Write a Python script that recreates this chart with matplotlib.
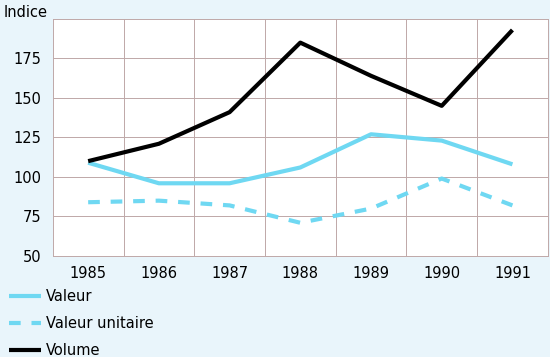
import matplotlib.pyplot as plt

# données
years = [1985, 1986, 1987, 1988, 1989, 1990, 1991]
valeur = [109, 96, 96, 106, 127, 123, 108]
valeur_unitaire = [84, 85, 82, 71, 80, 99, 82]
volume = [110, 121, 141, 185, 164, 145, 193]
yticks = [50, 75, 100, 125, 150, 175]

bg = '#e9f5fb'
cyan = '#6fd8f2'
grid_col = '#bfa8a8'

plt.rcParams['font.family'] = ['DejaVu Sans']

fig = plt.figure(figsize=(5.5, 3.57), dpi=100, facecolor=bg)
ax = fig.add_axes([0.096, 0.283, 0.9, 0.664])
ax.set_facecolor('white')

ax.plot(years, valeur, color=cyan, lw=3.0, label='Valeur', solid_capstyle='butt')
ax.plot(years, valeur_unitaire, color=cyan, lw=3.0, ls=(0, (2.8, 2.6)),
        label='Valeur unitaire')
ax.plot(years, volume, color='black', lw=3.0, label='Volume', solid_capstyle='butt')

ax.set_xlim(1984.5, 1991.5)
ax.set_ylim(50, 200)
ax.set_xticks(years)
ax.set_yticks(yticks)
# grille décalée d'une demi-année
for x in [y + 0.5 for y in years[:-1]]:
    ax.axvline(x, color=grid_col, lw=0.7, zorder=0)
for y in yticks[1:]:
    ax.axhline(y, color=grid_col, lw=0.7, zorder=0)
for s in ax.spines.values():
    s.set_color(grid_col)
    s.set_linewidth(0.7)
ax.tick_params(which='both', length=0, labelsize=10.5, pad=8)
ax.tick_params(axis='x', pad=7)

fig.text(0.006, 0.985, 'Indice', fontsize=10.5, va='top', ha='left')

fig.legend(loc='upper left', bbox_to_anchor=(0.016, 0.19), frameon=False,
           borderpad=0, borderaxespad=0,
           fontsize=10.5, handlelength=2.2, handletextpad=0.35, labelspacing=0.82)

fig.savefig('out.png', dpi=100, facecolor=bg)
